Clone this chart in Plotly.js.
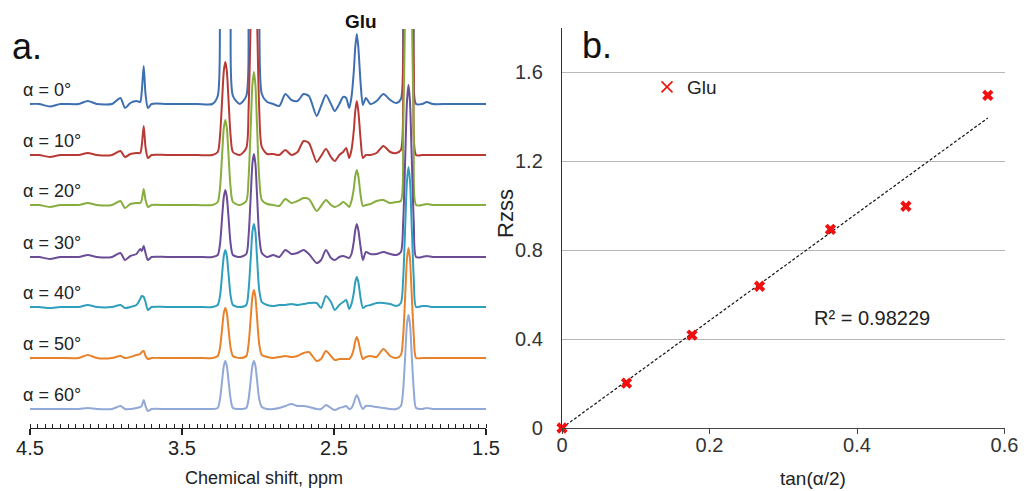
<!DOCTYPE html>
<html><head><meta charset="utf-8">
<script src="https://cdn.plot.ly/plotly-3.0.1.min.js"></script>
<style>html,body{margin:0;padding:0;background:#fff}#chart{width:1024px;height:491px}</style>
</head><body><div id="chart"></div>
<script>
// ---- Panel a: spectra (chemical shift grid, ppm) ----
const ppm = [4.50,4.44,4.37,4.30,4.18,4.12,4.06,3.96,3.905,3.875,3.84,
 3.80,3.775,3.765,3.752,3.74,3.724,3.70,
 3.60,3.40,3.30,
 3.265,3.25,3.235,3.225,3.215,3.205,3.195,3.18,3.165,
 3.12,
 3.077,3.062,3.047,3.037,3.027,3.017,3.007,2.992,2.975,
 2.94,2.90,2.86,2.82,2.78,2.74,2.70,2.665,2.614,2.585,2.553,2.52,2.495,2.465,2.44,2.42,
 2.40,2.385,2.37,2.36,2.35,2.34,2.325,2.31,
 2.29,2.26,2.22,2.175,2.13,2.09,
 2.06,2.045,2.03,2.02,2.01,2.00,1.99,1.975,1.96,
 1.92,1.89,1.85,1.75,1.60,1.50];

const alphaLabels = ['α = 0°','α = 10°','α = 20°','α = 30°','α = 40°','α = 50°','α = 60°'];
const offsets = [305,254,204,152,102,51,0];
const colors = ['#3e6fb0','#b83a35','#86ad3d','#6b4c97','#2f9fbd','#e8822a','#92a8d6'];

const spec0 = [0,0,-2.5,0,0,3,0,0,6,-4,1, 3,2,12,38,10,-4,0, 0,0,0,
 8,100,280,390,420,390,280,100,8, 0, 8,100,280,390,420,390,280,100,10,
 2,0,-2,10,4,3,10,8,-12,-2,9,0,-7,0,7,6, -4,7,32,57,70,57,21,-1,
 6,0,3,10,4,1, 5,100,280,390,420,390,280,100,0, 0,2,0,0,0,0];
const spec10 = [0,0,-2,0,0,2,0,0,4,-2,1, 2,2,9,29,8,-3,0, 0,0,0,
 3,19,58,84,93,84,58,19,3, 0, 7,46,143,207,230,207,143,46,8,
 1,1,0,5,0,3,14,12,-7,-1,6,-2,-6,0,3,7, -3,5,24,44,54,44,16,-3,
 0,0,2,9,3,2, 5,90,260,360,400,360,260,90,0, 0,0,0,0,0,0];
const spec20 = [0,0,-2,0,0,2,0,0,4,-3,1, 2,2,5,16,5,-2,0, 0,0,0,
 3,17,53,77,85,77,53,17,3, 0, 4,27,82,120,133,120,82,27,5,
 1,0,-1,6,2,4,7,6,-6,-1,5,0,-2,0,3,1, -2,4,16,29,35,29,10,-1,
 0,1,4,5,2,3, 4,70,220,310,340,310,220,70,0, 0,1,0,0,0,0];
const spec30 = [0,0,-2,0,0,2,0,0,4,-3,1, 3,8,6,11,4,-3,0, 0,0,0,
 2,13,42,60,67,60,42,13,2, 0, 3,21,64,93,103,93,64,21,4,
 0,2,0,7,3,4,7,3,-6,-3,7,-1,-3,0,1,0, -1,3,15,27,33,27,10,-3,
 5,3,3,5,3,2, 5,34,107,155,172,155,107,34,0, 0,1,0,0,0,0];
const spec40 = [0,0,-1,0,0,2,0,0,2,-1,0, 2,8,11,10,5,-3,0, 0,0,0,
 2,11,35,51,57,51,35,11,2, 0, 2,17,51,75,83,75,51,17,5,
 2,1,2,2,3,2,3,4,4,-1,11,5,-3,2,5,7, -2,3,14,25,30,25,9,-1,
 1,2,4,4,3,1, 4,28,87,126,140,126,87,28,0, 1,1,0,0,0,0];
const spec50 = [0,0,0,0,0,3,0,0,2,0,1, 3,4,6,7,2,-1,0, 0,0,0,
 2,10,31,45,50,45,31,10,2, 0, 2,14,42,61,68,61,42,14,3,
 1,0,1,2,1,2,5,6,-3,-1,7,2,-2,-1,-1,-1, -1,2,9,17,21,17,6,-1,
 1,2,1,9,2,0, 3,22,68,99,110,99,68,22,0, 0,0,0,0,0,0];
const spec60 = [0,0,0,0,0,1,0,0,3,0,0, 1,2,3,9,3,-2,0, 0,0,0,
 1,10,30,43,48,43,30,10,1, 0, 1,10,30,43,48,43,30,10,2,
 0,0,1,3,5,3,3,2,0,0,4,1,-1,1,2,3, 0,1,6,11,14,11,4,0,
 3,3,2,1,0,0, 3,19,58,85,94,85,58,19,1, 0,1,0,0,0,0];
const spectra = [spec0,spec10,spec20,spec30,spec40,spec50,spec60];

const ppmTickVals = [4.5,3.5,2.5,1.5];
const ppmTickText = ['4.5','3.5','2.5','1.5'];

// ---- Panel b: Rzss vs tan(α/2) ----
const tanHalf = [0,0.0875,0.1763,0.2679,0.3640,0.4663,0.5774];
const rzss = [0,0.202,0.418,0.638,0.894,0.998,1.497];
const trendX = [0,0.5774];
const trendY = [0,1.395];
const bxTickVals = [0,0.2,0.4,0.6];
const bxTickText = ['0','0.2','0.4','0.6'];
const byTickVals = [0,0.4,0.8,1.2,1.6];
const byTickText = ['0','0.4','0.8','1.2','1.6'];

const FONT = 'Liberation Sans, Arial, Helvetica, sans-serif';
const traces = [];
spectra.forEach((s,i)=>{
  traces.push({x:ppm, y:s.map(v=>v+offsets[i]), type:'scatter', mode:'lines',
    line:{color:colors[i], width:2, shape:'spline', smoothing:0.7},
    xaxis:'x', yaxis:'y', showlegend:false, hoverinfo:'skip'});
});
traces.push({x:trendX, y:trendY, type:'scatter', mode:'lines',
  line:{color:'#111', width:1.2, dash:'3px,2px'}, xaxis:'x2', yaxis:'y2', showlegend:false});
traces.push({x:tanHalf, y:rzss, type:'scatter', mode:'markers', name:'Glu',
  marker:{symbol:'x', size:10, color:'#f01010', line:{width:0}}, xaxis:'x2', yaxis:'y2', showlegend:false, cliponaxis:false});
traces.push({x:[null], y:[null], type:'scatter', mode:'markers', name:'Glu',
  marker:{symbol:'x-thin-open', size:11, color:'#f01010', line:{color:'#f01010', width:1.6}}, xaxis:'x2', yaxis:'y2', showlegend:true});

const ann = [];
alphaLabels.forEach((t,i)=>{
  ann.push({text:t, xref:'paper', yref:'y', x:21/1024, y:offsets[i]+14, xanchor:'left', yanchor:'middle',
    showarrow:false, font:{family:FONT, size:18, color:'#222'}});
});
ann.push({text:'a.', xref:'paper', yref:'paper', x:10/1024, y:1-46/491, xanchor:'left', yanchor:'middle', showarrow:false, font:{family:FONT, size:36, color:'#111'}});
ann.push({text:'b.', xref:'paper', yref:'paper', x:580/1024, y:1-45/491, xanchor:'left', yanchor:'middle', showarrow:false, font:{family:FONT, size:36, color:'#111'}});
ann.push({text:'<b>Glu</b>', xref:'paper', yref:'paper', x:361/1024, y:1-21/491, xanchor:'center', yanchor:'middle', showarrow:false, font:{family:FONT, size:19, color:'#111'}});
ann.push({text:'Chemical shift, ppm', xref:'paper', yref:'paper', x:264/1024, y:1-478/491, xanchor:'center', yanchor:'middle', showarrow:false, font:{family:FONT, size:18, color:'#222'}});
ann.push({text:'tan(α/2)', xref:'paper', yref:'paper', x:813/1024, y:1-478/491, xanchor:'center', yanchor:'middle', showarrow:false, font:{family:FONT, size:19, color:'#222'}});
ann.push({text:'Rzss', xref:'paper', yref:'paper', x:505/1024, y:1-214/491, xanchor:'center', yanchor:'middle', textangle:-90, showarrow:false, font:{family:FONT, size:22, color:'#222'}});
ann.push({text:'R² = 0.98229', xref:'paper', yref:'paper', x:872/1024, y:1-318/491, xanchor:'center', yanchor:'middle', showarrow:false, font:{family:FONT, size:20, color:'#222'}});

const layout = {
  width:1024, height:491, paper_bgcolor:'#fff', plot_bgcolor:'rgba(0,0,0,0)',
  margin:{l:0,r:0,t:0,b:0}, font:{family:FONT, color:'#222'},
  showlegend:true,
  legend:{x:647/1024, y:1-87/491, xanchor:'left', yanchor:'middle', bgcolor:'rgba(0,0,0,0)', font:{family:FONT, size:19, color:'#222'}},
  xaxis:{domain:[30/1024,486/1024], range:[4.5,1.5], anchor:'y', showline:true, linecolor:'#222', linewidth:1.3,
    ticks:'outside', ticklen:6, tickwidth:1.3, tickcolor:'#222', tickmode:'array', tickvals:ppmTickVals, ticktext:ppmTickText,
    minor:{tickmode:'linear', tick0:1.5, dtick:0.05, ticks:'inside', ticklen:4, tickwidth:1, tickcolor:'#222', showgrid:false},
    showgrid:false, zeroline:false, tickfont:{family:FONT, size:20, color:'#222'}, ticklabelstandoff:-4},
  yaxis:{domain:[63/491, 462/491], range:[-19,380], visible:false, fixedrange:true},
  xaxis2:{domain:[562/1024,1004.5/1024], range:[0,0.6], anchor:'y2', showline:true, linecolor:'#444', linewidth:1.2,
    ticks:'outside', ticklen:5, tickcolor:'#444', tickmode:'array', tickvals:bxTickVals, ticktext:bxTickText,
    showgrid:false, zeroline:false, tickfont:{family:FONT, size:20, color:'#333'}, ticklabelstandoff:-6},
  yaxis2:{domain:[63/491, 463/491], range:[0,1.8], anchor:'x2', showline:true, linecolor:'#333', linewidth:1.2,
    ticks:'', tickmode:'array', tickvals:byTickVals, ticktext:byTickText, showgrid:true, gridcolor:'#b8b8b8', gridwidth:1,
    zeroline:false, tickfont:{family:FONT, size:20, color:'#333'}, ticklabelstandoff:14},
  annotations:ann
};
Plotly.newPlot('chart', traces, layout, {displayModeBar:false, staticPlot:true});
</script>
</body></html>
